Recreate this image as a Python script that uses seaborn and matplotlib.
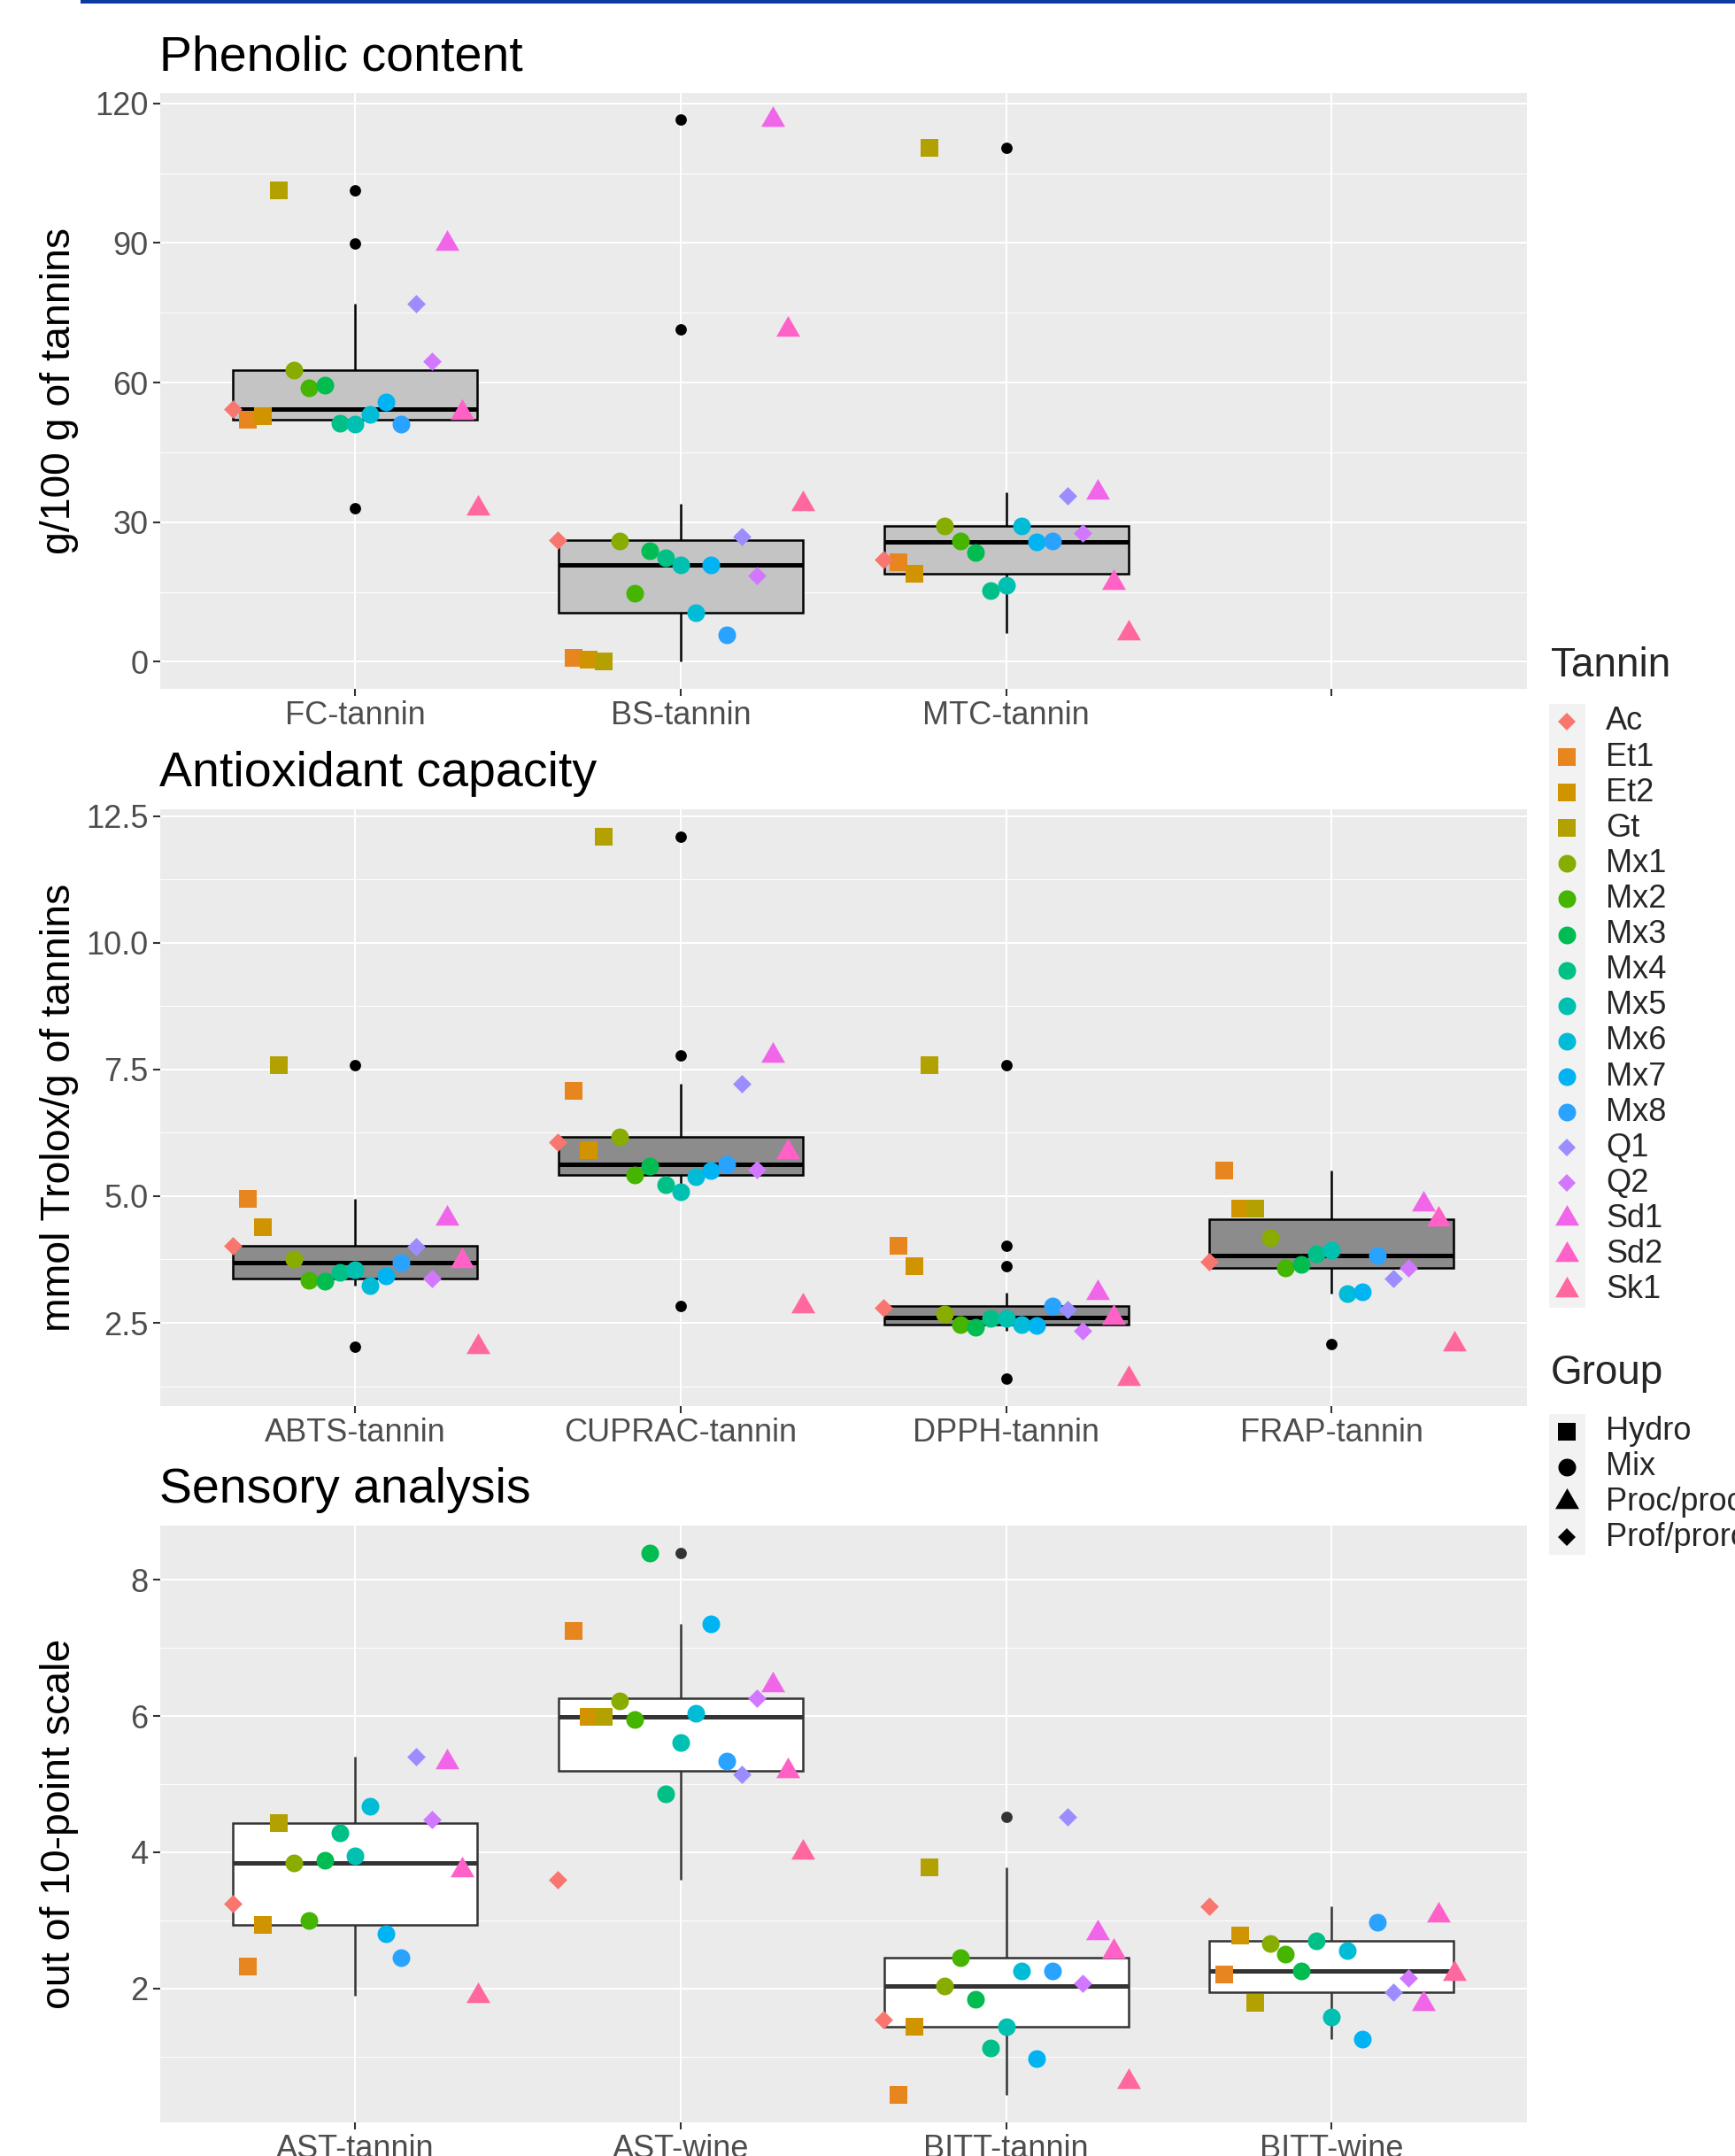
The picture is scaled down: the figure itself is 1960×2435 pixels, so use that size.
import pandas as pd
import seaborn as sns
import matplotlib.pyplot as plt
from matplotlib.patches import Rectangle
from matplotlib.lines import Line2D

# Tannins and their groups
tannins = ["Ac", "Et1", "Et2", "Gt", "Mx1", "Mx2", "Mx3", "Mx4", "Mx5", "Mx6",
           "Mx7", "Mx8", "Q1", "Q2", "Sd1", "Sd2", "Sk1"]
groups = ["Prof/prorobinetinidin", "Hydro", "Hydro", "Hydro",
          "Mix", "Mix", "Mix", "Mix", "Mix", "Mix", "Mix", "Mix",
          "Prof/prorobinetinidin", "Prof/prorobinetinidin",
          "Proc/procyanidin", "Proc/procyanidin", "Proc/procyanidin"]
group_order = ["Hydro", "Mix", "Proc/procyanidin", "Prof/prorobinetinidin"]

# Phenolic content (g/100 g of tannins)
fc_tannin = [54.3, 52.0, 52.8, 101.3, 62.7, 58.8, 59.5, 51.2, 51.0, 53.2, 55.8, 51.0, 76.9, 64.5, 89.9, 53.6, 33.0]
bs_tannin = [26.2, 0.8, 0.5, 0.0, 26.0, 14.8, 23.8, 22.3, 20.9, 10.5, 20.9, 5.8, 27.0, 18.5, 116.5, 71.4, 34.0]
mtc_tannin = [21.9, 21.3, 18.9, 110.4, 29.1, 26.0, 23.4, 15.3, 16.5, 29.2, 25.7, 26.0, 35.7, 27.6, 36.5, 17.1, 6.2]

# Antioxidant capacity (mmol Trolox/g of tannins)
abts_tannin = [4.02, 4.95, 4.39, 7.59, 3.76, 3.34, 3.32, 3.50, 3.55, 3.24, 3.42, 3.68, 4.00, 3.37, 4.56, 3.73, 2.02]
cuprac_tannin = [6.07, 7.07, 5.91, 12.10, 6.17, 5.42, 5.60, 5.22, 5.08, 5.39, 5.51, 5.63, 7.22, 5.53, 7.77, 5.88, 2.83]
dpph_tannin = [2.80, 4.02, 3.62, 7.59, 2.68, 2.47, 2.42, 2.58, 2.59, 2.47, 2.45, 2.83, 2.76, 2.34, 3.10, 2.60, 1.40]
frap_tannin = [3.71, 5.51, 4.75, 4.75, 4.18, 3.59, 3.66, 3.87, 3.94, 3.07, 3.12, 3.83, 3.38, 3.59, 4.84, 4.55, 2.08]

# Sensory analysis (out of 10-point scale)
ast_tannin = [3.24, 2.32, 2.93, 4.43, 3.84, 3.00, 3.88, 4.29, 3.95, 4.67, 2.80, 2.45, 5.41, 4.48, 5.32, 3.74, 1.89]
ast_wine = [3.60, 7.25, 5.99, 5.99, 6.22, 5.95, 8.40, 4.86, 5.61, 6.04, 7.35, 5.34, 5.14, 6.26, 6.46, 5.19, 4.00]
bitt_tannin = [1.54, 0.43, 1.44, 3.78, 2.03, 2.45, 1.84, 1.12, 1.43, 2.26, 0.97, 2.26, 4.52, 2.08, 2.81, 2.54, 0.63]
bitt_wine = [3.20, 2.20, 2.78, 1.79, 2.66, 2.50, 2.25, 2.70, 1.58, 2.55, 1.25, 2.97, 1.95, 2.15, 1.78, 3.07, 2.22]

measures = {
    "FC-tannin": fc_tannin, "BS-tannin": bs_tannin, "MTC-tannin": mtc_tannin,
    "ABTS-tannin": abts_tannin, "CUPRAC-tannin": cuprac_tannin,
    "DPPH-tannin": dpph_tannin, "FRAP-tannin": frap_tannin,
    "AST-tannin": ast_tannin, "AST-wine": ast_wine,
    "BITT-tannin": bitt_tannin, "BITT-wine": bitt_wine,
}

df = pd.DataFrame({"Tannin": tannins, "Group": groups})
for name, vals in measures.items():
    df[name] = vals
long_df = df.melt(id_vars=["Tannin", "Group"], var_name="measure", value_name="value")

# ggplot hue palette (17 levels)
colors = ["#F8766D", "#E7851E", "#D09400", "#B2A100", "#89AC00", "#45B500",
          "#00BC51", "#00C087", "#00C0B2", "#00BCD6", "#00B3F2", "#29A3FF",
          "#9C8DFF", "#D277FF", "#F166E8", "#FF61C7", "#FF689E"]
palette = dict(zip(tannins, colors))

triangle = [(0, 1), (-0.866, -0.5), (0.866, -0.5)]
markers = {"Hydro": "s", "Mix": "o", "Proc/procyanidin": triangle, "Prof/prorobinetinidin": "D"}
sizes = {"Hydro": 7.4, "Mix": 7.2, "Proc/procyanidin": 11.2, "Prof/prorobinetinidin": 5.3}

# Styles
sns.set_theme(style="darkgrid", rc={"axes.facecolor": "#EBEBEB", "grid.color": "white"})
plt.rcParams["font.family"] = ["Liberation Sans", "DejaVu Sans"]

W, H = 1960, 2435
fig = plt.figure(figsize=(9.8, 12.175), dpi=200)

panels = [
    dict(order=["FC-tannin", "BS-tannin", "MTC-tannin", " "], top=104.6, bottom=778,
         fill="#C4C4C4", edge="black", title="Phenolic content", ylabel="g/100 g of tannins",
         major=[0, 30, 60, 90, 120], minor=[15, 45, 75, 105], labels=["0", "30", "60", "90", "120"]),
    dict(order=["ABTS-tannin", "CUPRAC-tannin", "DPPH-tannin", "FRAP-tannin"], top=913.9, bottom=1587.6,
         fill="#8C8C8C", edge="black", title="Antioxidant capacity", ylabel="mmol Trolox/g of tannins",
         major=[2.5, 5, 7.5, 10, 12.5], minor=[1.25, 3.75, 6.25, 8.75, 11.25],
         labels=["2.5", "5.0", "7.5", "10.0", "12.5"]),
    dict(order=["AST-tannin", "AST-wine", "BITT-tannin", "BITT-wine"], top=1723, bottom=2397,
         fill="white", edge="#333333", title="Sensory analysis", ylabel="out of 10-point scale",
         major=[2, 4, 6, 8], minor=[1, 3, 5, 7], labels=["2", "4", "6", "8"]),
]

left, right = 180.5, 1725
for p in panels:
    ax = fig.add_axes([left / W, 1 - p["bottom"] / H, (right - left) / W, (p["bottom"] - p["top"]) / H])
    sub = long_df[long_df["measure"].isin(p["order"])]

    sns.boxplot(data=sub, x="measure", y="value", order=p["order"], width=0.75,
                color=p["fill"], linecolor=p["edge"], linewidth=0.9, saturation=1,
                whis=1.5, showcaps=False, fliersize=3.6,
                flierprops=dict(marker="o", markerfacecolor=p["edge"], markeredgecolor=p["edge"]),
                medianprops=dict(linewidth=1.8, color=p["edge"]), ax=ax)

    for grp in group_order:
        gsub = sub[sub["Group"] == grp]
        sns.stripplot(data=gsub, x="measure", y="value", order=p["order"],
                      hue="Tannin", hue_order=tannins, palette=palette,
                      dodge=True, jitter=False, marker=markers[grp], size=sizes[grp],
                      linewidth=0, legend=False, zorder=3, ax=ax)

    lo, hi = sub["value"].min(), sub["value"].max()
    r = hi - lo
    ax.set_ylim(lo - 0.05 * r, hi + 0.05 * r)
    ax.set_xlim(-0.6, len(p["order"]) - 0.4)
    ax.set_yticks(p["major"])
    ax.set_yticklabels(p["labels"])
    ax.set_yticks(p["minor"], minor=True)
    ax.grid(which="major", color="white", linewidth=0.75)
    ax.yaxis.grid(True, which="minor", color="white", linewidth=0.35)
    ax.xaxis.grid(True, which="major", color="white", linewidth=0.75)
    ax.set_axisbelow(True)
    for s in ax.spines.values():
        s.set_visible(False)
    ax.tick_params(axis="both", which="major", length=2.9, width=0.75, color="#333333",
                   labelcolor="#4D4D4D", labelsize=13, pad=1.8, bottom=True, left=True)
    ax.tick_params(which="minor", length=0)

    ax.set_title(p["title"], loc="left", fontsize=20, pad=9.2, color="black")
    ax.set_xlabel("")
    ax.set_ylabel(p["ylabel"], fontsize=16.7, color="black")
    ax.yaxis.set_label_coords(-0.059, 0.5)

# Legend (drawn by hand in figure pixels)
def fx(x):
    return x / W

def fy(y):
    return 1 - y / H

row_t = 40.1
fig.text(fx(1752), fy(752), "Tannin", fontsize=16.5, va="center", ha="left")
fig.add_artist(Rectangle((fx(1750), fy(815 + 16 * row_t + row_t / 2)), 41 / W, 17 * row_t / H,
                         transform=fig.transFigure, facecolor="#F2F2F2", edgecolor="none"))
for i, (t, g) in enumerate(zip(tannins, groups)):
    y = 815 + i * row_t
    fig.add_artist(Line2D([fx(1770)], [fy(y)], transform=fig.transFigure, marker=markers[g],
                          markersize=sizes[g], color=palette[t], linestyle="none", markeredgewidth=0))
    fig.text(fx(1814), fy(y), t, fontsize=13, va="center", ha="left")

row_g = 39.7
fig.text(fx(1752), fy(1551), "Group", fontsize=16.5, va="center", ha="left")
fig.add_artist(Rectangle((fx(1750), fy(1617 + 3 * row_g + row_g / 2)), 41 / W, 4 * row_g / H,
                         transform=fig.transFigure, facecolor="#F2F2F2", edgecolor="none"))
for i, g in enumerate(group_order):
    y = 1617 + i * row_g
    fig.add_artist(Line2D([fx(1770)], [fy(y)], transform=fig.transFigure, marker=markers[g],
                          markersize=sizes[g], color="black", linestyle="none", markeredgewidth=0))
    fig.text(fx(1814), fy(y), g, fontsize=13, va="center", ha="left")

# Blue rule at the top of the page
fig.add_artist(Rectangle((fx(91), fy(4)), (W - 91) / W, 4 / H, transform=fig.transFigure,
                         facecolor="#0B3BA1", edgecolor="none"))

plt.savefig("out.png", dpi=200)
